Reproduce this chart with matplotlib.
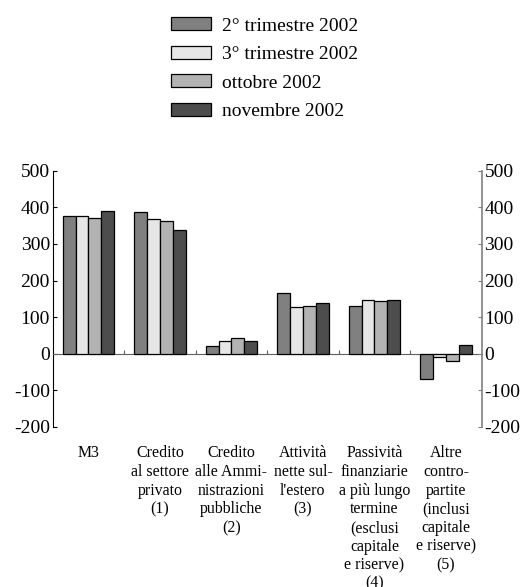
import numpy as np
import matplotlib.pyplot as plt
from matplotlib import transforms

plt.rcParams['font.family'] = ['Liberation Serif', 'DejaVu Serif']
plt.rcParams['axes.unicode_minus'] = False

# dati (miliardi di euro)
categories = ['M3',
              'Credito\nal settore\nprivato\n(1)',
              'Credito\nalle Ammi-\nnistrazioni\npubbliche\n(2)',
              'Attività\nnette sul-\nl\'estero\n(3)',
              'Passività\nfinanziarie\na più lungo\ntermine\n(esclusi\ncapitale\ne riserve)\n(4)',
              'Altre\ncontro-\npartite\n(inclusi\ncapitale\ne riserve)\n(5)']
series_names = ['2° trimestre 2002', '3° trimestre 2002', 'ottobre 2002', 'novembre 2002']
q2_2002 = [376, 387, 21, 166, 131, -70]
q3_2002 = [377, 369, 34, 128, 146, -8]
ott_2002 = [372, 362, 44, 131, 145, -19]
nov_2002 = [389, 338, 35, 139, 148, 25]
yticks = [-200, -100, 0, 100, 200, 300, 400, 500]

colors = ['#808080', '#e6e6e6', '#b3b3b3', '#4d4d4d']

fig = plt.figure(figsize=(5.25, 5.87), dpi=100)
ax = fig.add_axes([0.1004, 0.2727, 0.8171, 0.4365])

x = np.arange(len(categories))
w = 0.18
for j, vals in enumerate([q2_2002, q3_2002, ott_2002, nov_2002]):
    ax.bar(x + (j - 1.5) * w, vals, w, color=colors[j], edgecolor='black',
           linewidth=0.9, label=series_names[j], zorder=3)

ax.set_xlim(-0.5, len(categories) - 0.5)
ax.set_ylim(-200, 500)
ax.set_yticks(yticks)
ax.tick_params(axis='y', direction='in', length=3, labelsize=14, pad=2, color='black')

# asse orizzontale sullo zero
ax.spines['top'].set_visible(False)
ax.spines['right'].set_visible(False)
ax.spines['bottom'].set_position(('data', 0))
ax.spines['bottom'].set_color('#606060')
ax.set_xticks(x[:-1] + 0.5)
ax.set_xticklabels([])
ax.tick_params(axis='x', direction='in', length=3, color='#606060')

ax2 = ax.twinx()
ax2.set_ylim(-200, 500)
ax2.set_yticks(yticks)
ax2.tick_params(axis='y', direction='in', length=3, labelsize=14, pad=2, color='#808080')
for s in ['top', 'left', 'bottom']:
    ax2.spines[s].set_visible(False)
ax2.spines['right'].set_color('#808080')
ax2.spines['right'].set_linewidth(1.2)

# etichette delle categorie
trans = transforms.blended_transform_factory(ax.transData, ax.transAxes)
for i, lab in enumerate(categories):
    ax.text(i, -0.072, lab, transform=trans, ha='center', va='top',
            fontsize=11.4, linespacing=1.22)

fig.legend(loc='upper left', bbox_to_anchor=(0.326, 0.9707), frameon=False,
           fontsize=14, handlelength=2.06, handleheight=0.67, handletextpad=0.57,
           labelspacing=0.57, borderpad=0, borderaxespad=0)

fig.savefig('out.png', dpi=100)
